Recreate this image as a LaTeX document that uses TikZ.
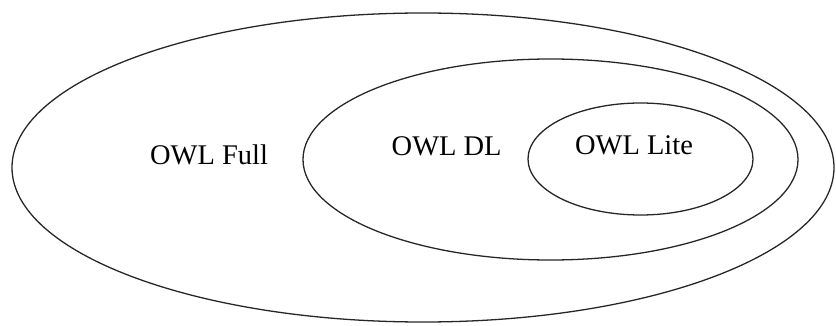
\documentclass[tikz,border=0pt]{standalone}
\usepackage{fontspec}
\setmainfont{Liberation Serif}
\usepackage{tkz-euclide}
\usetikzlibrary{calc}

\begin{document}
\begin{tikzpicture}[scale=1,
                owlset/.style={line width=1.1pt,color=black!85},
                owllabel/.style={anchor=base,inner sep=0pt,font=\fontsize{24.3}{29}\selectfont}]
                \useasboundingbox (0,0) rectangle (25.08,9.75);
                \tkzDefPoint(12.69,4.725){Of}
                \tkzDefPoint(16.515,4.965){Od}
                \tkzDefPoint(19.215,4.98){Ol}
                % nested sets
                \draw[owlset] (Of) ellipse [x radius=12.33,y radius=4.635];
                \draw[owlset] (Od) ellipse [x radius=7.425,y radius=3.015];
                \draw[owlset] (Ol) ellipse [x radius=3.375,y radius=1.68];
                %\tkzDrawPoints(Of,Od,Ol)
                \node[owllabel] (full) at (6.27,4.83) {OWL Full};
                \node[owllabel] (dl) at (13.40,5.085) {OWL DL};
                \node[owllabel] (lite) at (19.02,5.13) {OWL Lite};
            \end{tikzpicture}
\end{document}
